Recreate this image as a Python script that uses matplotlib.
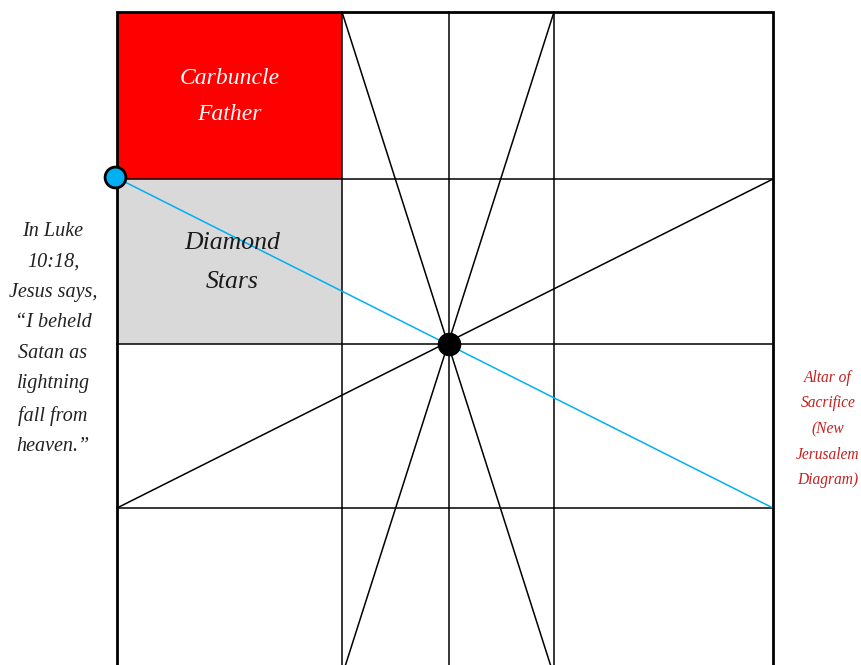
import matplotlib.pyplot as plt
from matplotlib.patches import Rectangle

# grid positions (pixel space of the diagram)
col_x = [117, 342, 449, 554, 773]
row_y = [12, 179, 344, 508, 676]
center = (449, 344)

# rays through the centre: (start, end)
rays = [((342, 12), (554, 676)),
        ((554, 12), (342, 676)),
        ((117, 508), (773, 179))]
blue_ray = ((115, 177), (773, 508))

cells = [("Carbuncle\nFather", (117, 12, 342, 179), "#FF0000", "white", 17, 0),
         ("Diamond\nStars", (117, 179, 342, 344), "#D9D9D9", "#1a1a1a", 18.5, 3)]

left_note = "In Luke\n10:18,\nJesus says,\n\u201cI beheld\nSatan as\nlightning\nfall from\nheaven.\u201d"
right_note = "Altar of\nSacrifice\n(New\nJerusalem\nDiagram)"

serif = ["Liberation Serif", "DejaVu Serif"]

fig = plt.figure(figsize=(8.61, 6.65), dpi=100)
ax = fig.add_axes([0, 0, 1, 1])
ax.set_xlim(0, 861)
ax.set_ylim(665, 0)
ax.axis("off")

for label, (x0, y0, x1, y1), fc, tc, fs, dx in cells:
    ax.add_patch(Rectangle((x0, y0), x1 - x0, y1 - y0, facecolor=fc, edgecolor="none", zorder=1))
    ax.text((x0 + x1) / 2 + dx, (y0 + y1) / 2 + 1, label, color=tc, fontsize=fs, family=serif,
            style="italic", ha="center", va="center", linespacing=1.95, zorder=5)

# inner grid
for x in col_x[1:-1]:
    ax.plot([x, x], [row_y[0], row_y[-1]], color="black", lw=1.1, zorder=2)
for y in row_y[1:-1]:
    ax.plot([col_x[0], col_x[-1]], [y, y], color="black", lw=1.1, zorder=2)

for (a, b) in rays:
    ax.plot([a[0], b[0]], [a[1], b[1]], color="black", lw=1.1, zorder=2)
ax.plot([blue_ray[0][0], blue_ray[1][0]], [blue_ray[0][1], blue_ray[1][1]], color="#00B0F0", lw=1.1, zorder=3)

# outer frame
ax.plot([col_x[0], col_x[0], col_x[-1], col_x[-1]], [row_y[-1], row_y[0], row_y[0], row_y[-1]],
        color="black", lw=2.0, zorder=4, solid_joinstyle="miter")

ax.plot(*center, "o", ms=16, color="black", zorder=6)
ax.plot(*blue_ray[0], "o", ms=15, markerfacecolor="#00B0F0", markeredgecolor="black", mew=2, zorder=6)

ax.text(53, 339, left_note, color="#222222", fontsize=14.5, family=serif, style="italic",
        ha="center", va="center", linespacing=1.82)
ax.text(828, 429, right_note, color="#C81E1E", fontsize=11.2, family=serif, style="italic",
        ha="center", va="center", linespacing=1.8)

fig.savefig("out.png", dpi=100)
